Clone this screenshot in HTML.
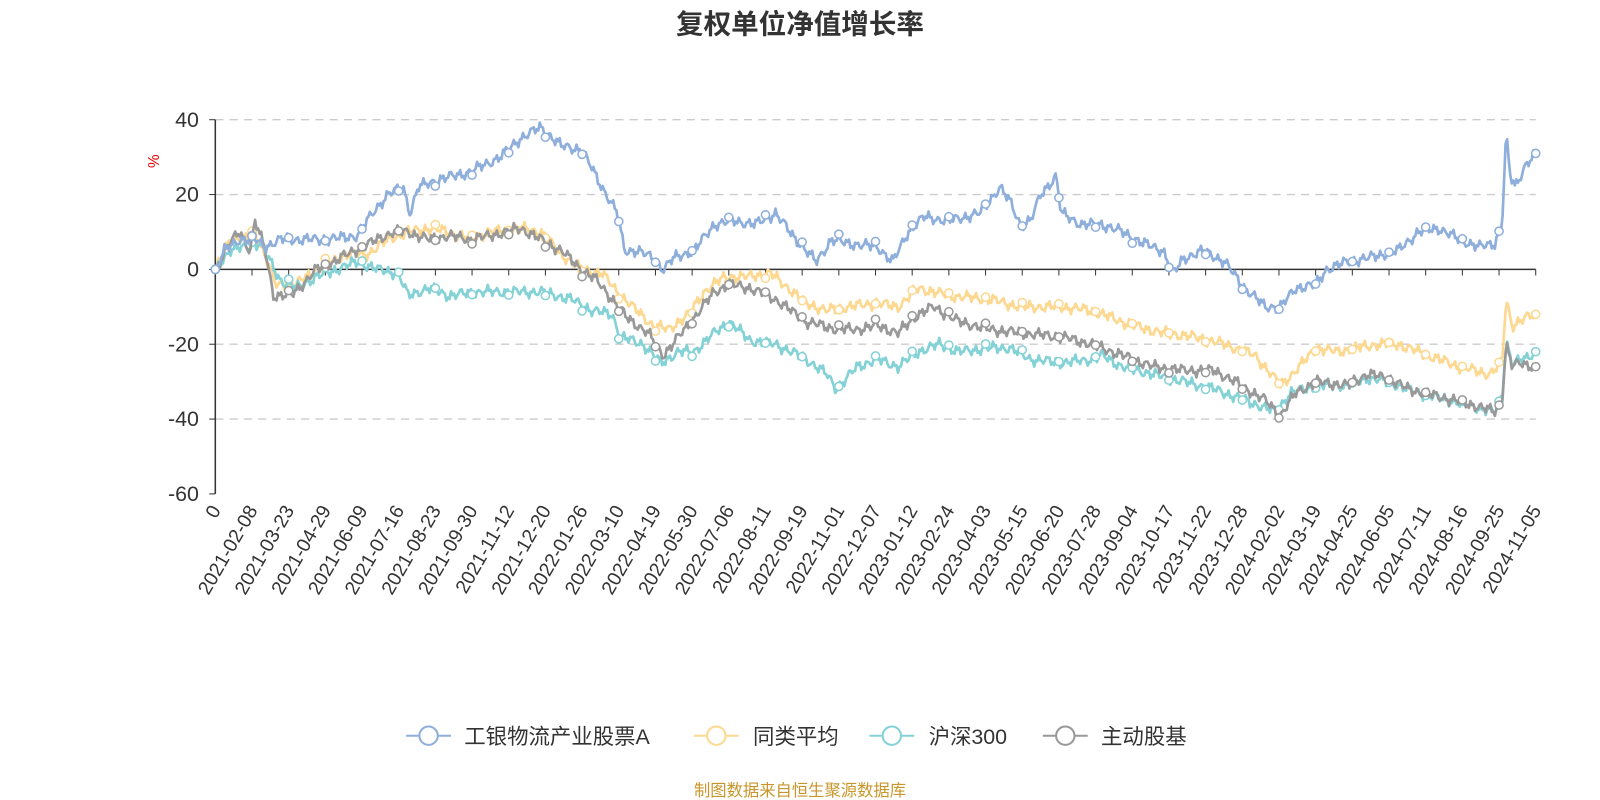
<!DOCTYPE html>
<html><head><meta charset="utf-8"><style>
body{margin:0;background:#fff;}
svg{display:block;font-family:"Liberation Sans","Noto Sans CJK SC",sans-serif;}
</style></head><body>
<svg id="s" width="1600" height="800" xmlns="http://www.w3.org/2000/svg">
<g transform="scale(1.020408)">
<text x="784" y="33" text-anchor="middle" font-size="27" font-weight="bold" fill="#333">复权单位净值增长率</text>
<text x="0" y="0" transform="translate(156,158) rotate(-90)" text-anchor="middle" font-size="15" fill="#e00">%</text>
<g id="grid"></g>
<g id="series"></g>
<g id="legend" font-size="21" fill="#333">
<line x1="398" y1="721" x2="442" y2="721" stroke="#8eaedb" stroke-width="2"/><circle cx="420" cy="721" r="9" fill="#fff" stroke="#8eaedb" stroke-width="2"/><text x="455" y="729">工银物流产业股票A</text>
<line x1="680" y1="721" x2="724" y2="721" stroke="#fdd891" stroke-width="2"/><circle cx="702" cy="721" r="9" fill="#fff" stroke="#fdd891" stroke-width="2"/><text x="738" y="729">同类平均</text>
<line x1="852" y1="721" x2="896" y2="721" stroke="#84d2d6" stroke-width="2"/><circle cx="874" cy="721" r="9" fill="#fff" stroke="#84d2d6" stroke-width="2"/><text x="910" y="729">沪深300</text>
<line x1="1022" y1="721" x2="1066" y2="721" stroke="#999" stroke-width="2"/><circle cx="1044" cy="721" r="9" fill="#fff" stroke="#999" stroke-width="2"/><text x="1079" y="729">主动股基</text>
</g>
<text x="784" y="780" text-anchor="middle" font-size="16" fill="#c8962a">制图数据来自恒生聚源数据库</text>
</g>
</svg>
<script>
const NS="http://www.w3.org/2000/svg";
function el(t,a,p,txt){const e=document.createElementNS(NS,t);for(const k in a)e.setAttribute(k,a[k]);if(txt!==undefined)e.textContent=txt;p.appendChild(e);return e;}
const X0=211,X1=1505;
const Y=v=>264-v*3.667;
const g=document.getElementById('grid');
for(const v of [40,20,0,-20,-40,-60]){
  if(v!==0&&v!==-60) el('line',{x1:X0,x2:X1,y1:Y(v),y2:Y(v),stroke:'#ccc','stroke-dasharray':'8,6','stroke-width':1.3},g);
  el('line',{x1:X0-6,x2:X0,y1:Y(v),y2:Y(v),stroke:'#333'},g);
  el('text',{x:195,y:Y(v)+7,'text-anchor':'end','font-size':21,fill:'#333'},g,String(v));
}
el('line',{x1:X0,x2:X0,y1:Y(40),y2:Y(-60),stroke:'#333','stroke-width':1.5},g);
el('line',{x1:X0,x2:X1,y1:Y(0),y2:Y(0),stroke:'#333','stroke-width':1.5},g);
const labels=["0","2021-02-08","2021-03-23","2021-04-29","2021-06-09","2021-07-16","2021-08-23","2021-09-30","2021-11-12","2021-12-20","2022-01-26","2022-03-10","2022-04-19","2022-05-30","2022-07-06","2022-08-11","2022-09-19","2022-11-01","2022-12-07","2023-01-12","2023-02-24","2023-04-03","2023-05-15","2023-06-20","2023-07-28","2023-09-04","2023-10-17","2023-11-22","2023-12-28","2024-02-02","2024-03-19","2024-04-25","2024-06-05","2024-07-11","2024-08-16","2024-09-25","2024-11-05"];
const step=(X1-X0)/36;
labels.forEach((l,i)=>{const x=X0+i*step;
 el('line',{x1:x,x2:x,y1:Y(0),y2:Y(0)+6,stroke:'#333'},g);
 el('text',{x:0,y:0,transform:`translate(${x+6},${500}) rotate(-60)`,'text-anchor':'end','font-size':19,fill:'#333'},g,l);
});
const S=[
["#fdd891",[[211,0],[225,8],[240,8],[250,10],[262,2],[270,-4],[290,-4],[310,0],[340,4],[360,4],[380,8],[400,10],[420,11],[440,10],[460,8],[480,10],[510,11],[530,10],[550,4],[570,0],[590,-1],[605,-6],[620,-10],[640,-15],[655,-16],[675,-12],[690,-6],[710,-2],[730,-2],[755,-1],[790,-9],[810,-11],[830,-10],[860,-9],[880,-10],[900,-5],[930,-7],[970,-8],[1000,-10],[1040,-10],[1070,-11],[1090,-13],[1110,-15],[1140,-17],[1170,-18],[1200,-20],[1230,-23],[1255,-31],[1270,-27],[1290,-21],[1310,-22],[1330,-21],[1350,-20],[1370,-20],[1400,-23],[1430,-26],[1460,-28],[1472,-25],[1476,-8],[1482,-15],[1495,-13],[1505,-12]]],
["#84d2d6",[[211,0],[225,5],[240,6],[255,7],[265,2],[275,-3],[290,-5],[310,-2],[330,0],[350,2],[370,0],[390,-1],[400,-7],[420,-5],[440,-7],[470,-6],[500,-6],[530,-6],[560,-8],[580,-11],[600,-12],[608,-18],[630,-20],[648,-25],[665,-22],[680,-22],[700,-17],[715,-14],[735,-19],[760,-20],[790,-24],[810,-28],[820,-32],[840,-26],[860,-24],[880,-26],[900,-22],[920,-20],[940,-22],[970,-21],[990,-21],[1010,-24],[1040,-25],[1070,-24],[1080,-23],[1100,-26],[1130,-28],[1160,-30],[1190,-32],[1220,-35],[1250,-38],[1265,-33],[1290,-31],[1320,-31],[1340,-29],[1360,-30],[1390,-33],[1420,-35],[1450,-37],[1465,-38],[1472,-34],[1476,-19],[1482,-25],[1495,-24],[1505,-22]]],
["#999999",[[211,0],[225,7],[235,10],[245,5],[250,13],[260,5],[268,-7],[285,-7],[300,-3],[310,0],[320,1],[340,4],[355,6],[370,8],[385,10],[400,10],[420,8],[440,9],[460,8],[480,9],[510,11],[530,8],[550,5],[570,0],[585,-3],[600,-8],[615,-13],[635,-17],[650,-23],[665,-18],[680,-13],[700,-6],[715,-4],[735,-5],[760,-8],[790,-14],[820,-16],[840,-16],[860,-15],[880,-17],[900,-12],[915,-10],[940,-14],[970,-16],[1000,-17],[1040,-18],[1070,-20],[1100,-23],[1130,-26],[1160,-27],[1190,-27],[1210,-30],[1240,-35],[1255,-39],[1270,-33],[1290,-30],[1320,-31],[1340,-28],[1360,-29],[1380,-32],[1410,-34],[1440,-36],[1465,-38],[1472,-35],[1476,-20],[1482,-26],[1490,-25],[1505,-26]]],
["#8eaedb",[[211,0],[220,5],[235,8],[250,8],[260,6],[275,8],[300,8],[320,8],[350,9],[365,15],[380,20],[395,22],[402,15],[410,22],[430,24],[460,26],[490,30],[510,35],[530,38],[550,33],[570,32],[590,22],[605,15],[612,5],[625,5],[640,3],[650,0],[660,3],[680,5],[700,12],[720,13],[740,12],[760,15],[780,8],[800,2],[815,8],[830,7],[860,6],[875,2],[890,10],[905,14],[930,13],[960,15],[980,22],[990,18],[1000,12],[1010,13],[1020,20],[1035,25],[1040,15],[1060,12],[1080,12],[1100,10],[1120,7],[1140,5],[1150,-1],[1160,3],[1180,5],[1200,2],[1220,-5],[1240,-10],[1255,-10],[1270,-5],[1290,-4],[1300,0],[1320,2],[1340,3],[1370,5],[1390,10],[1410,11],[1430,8],[1450,6],[1465,7],[1472,12],[1476,36],[1480,25],[1485,22],[1495,28],[1505,31]]]
];
const sg=document.getElementById('series');
function interp(k,x){for(let i=0;i<k.length-1;i++){if(x<=k[i+1][0]){const t=(x-k[i][0])/(k[i+1][0]-k[i][0]);return k[i][1]+t*(k[i+1][1]-k[i][1]);}}return k[k.length-1][1];}
S.forEach(([c,k],si)=>{
 let d='',seed=si*13+1;
 const noise=x=>0.9*Math.sin(x*0.71+seed)+0.6*Math.sin(x*1.93+seed*2)+0.4*Math.sin(x*0.23+seed*3);
 for(let x=X0;x<=X1;x+=1.5){let v=interp(k,x)+(x>X0+2&&x<X1-2?noise(x):0);d+=(d?'L':'M')+x.toFixed(1)+','+Y(v).toFixed(1);}
 el('path',{d:d,fill:'none',stroke:c,'stroke-width':2.6,'stroke-linejoin':'round'},sg);
 for(let i=0;i<=36;i++){const x=X0+i*step;el('circle',{cx:x,cy:Y(interp(k,x)+(i>0&&i<36?noise(x):0)),r:4,fill:'#fff',stroke:c,'stroke-width':1.5},sg);}
});
</script>
</body></html>
